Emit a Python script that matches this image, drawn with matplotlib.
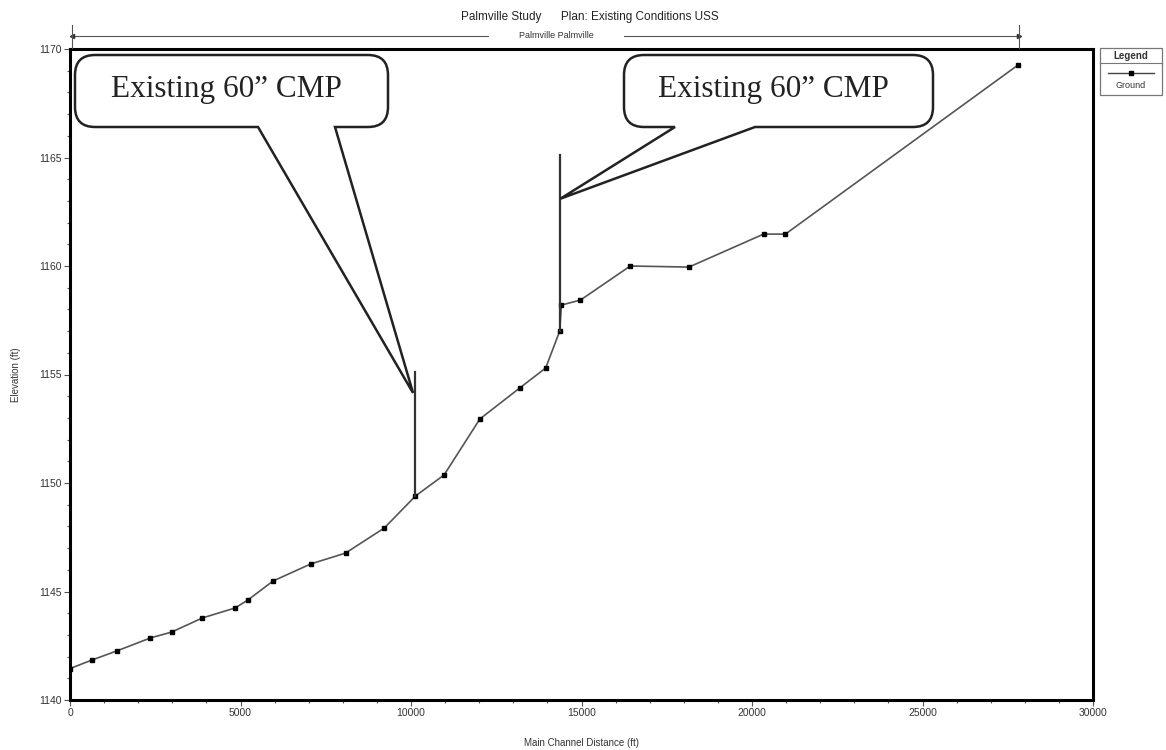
import matplotlib
matplotlib.use("Agg")
from matplotlib import pyplot as plt
from matplotlib.path import Path
from matplotlib.patches import PathPatch, Rectangle
from matplotlib.lines import Line2D
from matplotlib.ticker import MultipleLocator

plt.rcParams['font.family'] = ['Liberation Sans', 'DejaVu Sans']

# ground profile
station = [0, 640, 1370, 2360, 2980, 3880, 4840, 5220, 5950, 7060, 8080, 9220,
           10130, 10970, 12020, 13190, 13950, 14360, 14410, 14970, 16430,
           18150, 20340, 20980, 27800]
ground = [1141.45, 1141.84, 1142.26, 1142.86, 1143.13, 1143.78, 1144.24, 1144.61,
          1145.48, 1146.27, 1146.77, 1147.93, 1149.40, 1150.37, 1152.95, 1154.38,
          1155.30, 1157.00, 1158.20, 1158.43, 1160.00, 1159.95, 1161.47, 1161.47,
          1169.26]

# culverts drawn as vertical bars
culvert_x = [10130, 14380]
culvert_bot = [1149.40, 1157.00]
culvert_top = [1155.10, 1165.10]
# where the callout tails point
tip_x = [10060, 14380]
tip_y = [1154.15, 1163.10]
callout_text = ['Existing 60\u201d CMP', 'Existing 60\u201d CMP']

W, H = 1166, 750
fig = plt.figure(figsize=(W / 100, H / 100), dpi=100)
ax = fig.add_axes([70 / W, 1 - 700 / H, (1093 - 70) / W, (700 - 49) / H])

ax.plot(station, ground, color='#555555', lw=1.2, marker='s', ms=3.0,
        mfc='black', mec='black', zorder=3)
for cx, b, t in zip(culvert_x, culvert_bot, culvert_top):
    ax.plot([cx, cx], [b, t], color='#333333', lw=1.6, zorder=3)

ax.set_xlim(0, 30000)
ax.set_ylim(1140, 1170)
ax.xaxis.set_major_locator(MultipleLocator(5000))
ax.xaxis.set_minor_locator(MultipleLocator(1000))
ax.yaxis.set_major_locator(MultipleLocator(5))
ax.yaxis.set_minor_locator(MultipleLocator(1))
ax.tick_params(which='both', labelsize=7.5, color='#555555', width=0.8,
               labelcolor='#333333')
ax.tick_params(which='major', length=4, pad=2)
ax.tick_params(which='minor', length=2)
for s in ax.spines.values():
    s.set_linewidth(2.2)
ax.set_xlabel('Main Channel Distance (ft)', fontsize=7, labelpad=14, color='#333333')
ax.set_ylabel('Elevation (ft)', fontsize=7, labelpad=13, color='#333333')


def to_disp(x, y):
    return (x, H - y)


def callout(box, tail, tip):
    x0, y0, x1, y1 = box
    r = 20
    t0, t1 = tail
    tx, ty = tip
    verts = [
        (x0 + r, y0), (x1 - r, y0), (x1, y0), (x1, y0 + r),
        (x1, y1 - r), (x1, y1), (x1 - r, y1),
        (t1, y1), (tx, ty), (t0, y1),
        (x0 + r, y1), (x0, y1), (x0, y1 - r),
        (x0, y0 + r), (x0, y0), (x0 + r, y0),
    ]
    codes = [Path.MOVETO, Path.LINETO, Path.CURVE3, Path.CURVE3,
             Path.LINETO, Path.CURVE3, Path.CURVE3,
             Path.LINETO, Path.LINETO, Path.LINETO,
             Path.LINETO, Path.CURVE3, Path.CURVE3,
             Path.LINETO, Path.CURVE3, Path.CURVE3]
    verts = [to_disp(*v) for v in verts]
    patch = PathPatch(Path(verts, codes), facecolor='white', edgecolor='#222222',
                      lw=1.8, transform=None, zorder=10)
    fig.add_artist(patch)


fig.canvas.draw()
boxes = [(75, 55, 388, 127), (624, 55, 933, 127)]
tails = [(258, 335), (675, 755)]
for i in range(2):
    px, py = ax.transData.transform((tip_x[i], tip_y[i]))
    callout(boxes[i], tails[i], (px, H - py))
    bx0, bx1 = boxes[i][0], boxes[i][2]
    fig.text((bx0 + bx1) / 2 / W - 0.004, 1 - 90 / H, callout_text[i],
             family='Liberation Serif', fontsize=22.5, ha='center', va='center',
             color='#222222', zorder=11)

# title and reach ruler
fig.text(590 / W, 1 - 17 / H, 'Palmville Study      Plan: Existing Conditions USS',
         fontsize=8.5, ha='center', va='center', color='#222222')
ry = 1 - 36 / H
fig.add_artist(Line2D([72 / W, 488 / W], [ry, ry], color='#555555', lw=0.8))
fig.add_artist(Line2D([624 / W, 1019 / W], [ry, ry], color='#555555', lw=0.8))
fig.add_artist(Line2D([72 / W], [ry], marker='<', ms=3, color='#333333'))
fig.add_artist(Line2D([1019 / W], [ry], marker='>', ms=3, color='#333333'))
for xx in (72, 1019):
    fig.add_artist(Line2D([xx / W, xx / W], [1 - 25 / H, 1 - 48 / H], color='#555555', lw=0.8))
fig.text(556 / W, ry, 'Palmville Palmville', fontsize=6.5, ha='center', va='center',
         color='#333333')

# legend box
fig.add_artist(Rectangle((1100 / W, 1 - 95 / H), 62 / W, 47 / H, facecolor='white',
                         edgecolor='#777777', lw=0.9, transform=fig.transFigure))
fig.add_artist(Line2D([1100 / W, 1162 / W], [1 - 63 / H, 1 - 63 / H], color='#777777', lw=0.8))
fig.text(1131 / W, 1 - 56 / H, 'Legend', fontsize=7, ha='center', va='center',
         weight='bold', color='#333333')
fig.add_artist(Line2D([1108 / W, 1154 / W], [1 - 73 / H, 1 - 73 / H], color='#444444',
                      lw=1.0))
fig.add_artist(Line2D([1131 / W], [1 - 73 / H], marker='s', ms=3, color='black'))
fig.text(1131 / W, 1 - 85 / H, 'Ground', fontsize=6.5, ha='center', va='center',
         color='#333333')

fig.savefig('out.png', dpi=100)
